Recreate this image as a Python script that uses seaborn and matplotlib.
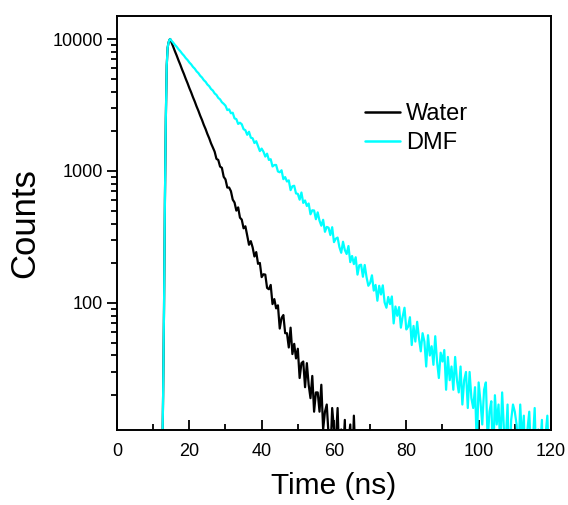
import numpy as np
import pandas as pd
import matplotlib
matplotlib.use("Agg")
import matplotlib.pyplot as plt
import matplotlib.ticker as mticker
import seaborn as sns

# ---- data ----
rise_time = [12.0, 12.25, 12.5, 12.75, 13.0, 13.25, 13.5, 13.75, 14.0, 14.25, 14.5, 14.7]
water_rise = [2, 3, 6, 20, 90, 600, 2500, 6300, 8600, 9400, 9850, 10000]
dmf_rise = [2, 3, 6, 20, 90, 600, 2500, 6300, 8600, 9400, 9850, 10000]

water_time = np.arange(15.0, 70.01, 0.5)
water_counts = [
    9530, 8800, 8100, 7500, 6900, 6390, 5870, 5440, 5000, 4630, 4255, 3945,
    3625, 3360, 3085, 2862, 2628, 2438, 2236, 2077, 1905, 1769, 1620, 1508,
    1401, 1236, 1212, 1080, 1057, 904, 863, 749, 749, 703, 607, 577,
    501, 530, 443, 428, 368, 381, 325, 276, 294, 264, 225, 243,
    198, 201, 157, 165, 164, 130, 127, 137, 98, 107, 91, 96,
    64, 77, 81, 59, 59, 46, 65, 41, 49, 38, 45, 27,
    35, 36, 23, 35, 24, 19, 28, 15, 21, 21, 15, 24,
    11, 15, 17, 10, 7, 16, 11, 9, 16, 6, 11, 7,
    13, 3, 9, 12, 5, 14, 6, 3,
    5, 8, 4, 7, 3, 6, 4,
]

dmf_time = np.arange(15.0, 120.01, 0.5)
dmf_counts = [
    9760, 9420, 9040, 8730, 8370, 8090, 7750, 7490, 7170, 6940,
    6640, 6430, 6150, 5960, 5690, 5520, 5270, 5110, 4880, 4740,
    4520, 4390, 4180, 4070, 3870, 3770, 3580, 3490, 3320, 3230,
    3124, 2894, 2930, 2739, 2763, 2503, 2473, 2272, 2321, 2260,
    2074, 2037, 1880, 1983, 1789, 1770, 1629, 1682, 1544, 1415,
    1478, 1400, 1286, 1353, 1212, 1229, 1082, 1110, 1111, 991,
    978, 1013, 867, 899, 832, 849, 716, 766, 773, 676,
    671, 606, 687, 573, 598, 543, 567, 470, 504, 502,
    431, 486, 420, 385, 427, 346, 377, 372, 327, 375,
    289, 307, 313, 265, 240, 291, 252, 235, 270, 204,
    227, 197, 222, 164, 193, 195, 158, 194, 157, 135,
    142, 162, 124, 137, 104, 135, 116, 136, 101, 92,
    111, 98, 112, 70, 94, 80, 93, 65, 79, 92,
    63, 66, 78, 48, 67, 51, 72, 54, 43, 59,
    51, 33, 57, 40, 47, 34, 56, 36, 27, 42,
    36, 44, 22, 39, 26, 33, 22, 39, 26, 21,
    33, 17, 26, 30, 16, 30, 19, 16, 23, 8,
    25, 18, 12, 22, 25, 9, 15, 18, 6, 20,
    12, 17, 8, 21, 11, 9, 17, 5, 13, 17,
    15, 12, 7, 17, 9, 14, 4, 11, 15, 7,
    9, 16, 5, 11, 8, 13, 3, 10, 14, 6,
    8,
]

series_names = ["Water", "DMF"]
series_colors = ["#000000", "#00FFFF"]

# ---- build long-form table ----
df = pd.concat([
    pd.DataFrame({"Time": list(rise_time) + list(water_time),
                  "Counts": water_rise + water_counts, "Sample": "Water"}),
    pd.DataFrame({"Time": list(rise_time) + list(dmf_time),
                  "Counts": dmf_rise + dmf_counts, "Sample": "DMF"}),
], ignore_index=True)

sns.set_style("white")
plt.rcParams["font.family"] = ["Liberation Sans", "DejaVu Sans"]
plt.rcParams["text.color"] = "black"
plt.rcParams["axes.labelcolor"] = "black"
plt.rcParams["xtick.color"] = "black"
plt.rcParams["ytick.color"] = "black"

fig = plt.figure(figsize=(5.68, 5.05), dpi=100)
ax = fig.add_axes([0.206, 0.1485, 0.764, 0.8195])

sns.lineplot(data=df, x="Time", y="Counts", hue="Sample", hue_order=series_names,
             palette=dict(zip(series_names, series_colors)), estimator=None,
             sort=False, linewidth=1.6, ax=ax)

ax.set_yscale("log")
ax.set_xlim(0, 120)
ax.set_ylim(10.9, 14900)

ax.xaxis.set_major_locator(mticker.MultipleLocator(20))
ax.xaxis.set_minor_locator(mticker.MultipleLocator(10))
ax.yaxis.set_major_locator(mticker.LogLocator(base=10, numticks=10))
ax.yaxis.set_minor_locator(mticker.LogLocator(base=10, subs=np.arange(2, 10), numticks=20))
ax.yaxis.set_major_formatter(mticker.FuncFormatter(lambda v, p: f"{int(round(v))}"))
ax.yaxis.set_minor_formatter(mticker.NullFormatter())

ax.tick_params(axis="x", which="major", direction="in", length=7, width=1.3,
               labelsize=13, pad=9, top=False, bottom=True, colors="black")
ax.tick_params(axis="x", which="minor", direction="in", length=4, width=1.3,
               top=False, bottom=True)
ax.tick_params(axis="y", which="major", direction="out", length=7, width=1.3,
               labelsize=13, pad=3, left=True, right=False, colors="black")
ax.tick_params(axis="y", which="minor", direction="out", length=4, width=1.3,
               left=True, right=False)

for s in ax.spines.values():
    s.set_linewidth(1.4)
    s.set_color("black")
    s.set_visible(True)

ax.set_xlabel("Time (ns)", fontsize=21.5, labelpad=9, color="black")
ax.set_ylabel("Counts", fontsize=25, labelpad=8, color="black")

leg = ax.legend(loc="upper left", bbox_to_anchor=(0.571, 0.79), frameon=False,
                fontsize=17, handlelength=1.5, handletextpad=0.25,
                labelspacing=0.3, borderaxespad=0, borderpad=0)
for line in leg.get_lines():
    line.set_linewidth(1.8)
for t in leg.get_texts():
    t.set_color("black")

fig.savefig("out.png", dpi=100)
